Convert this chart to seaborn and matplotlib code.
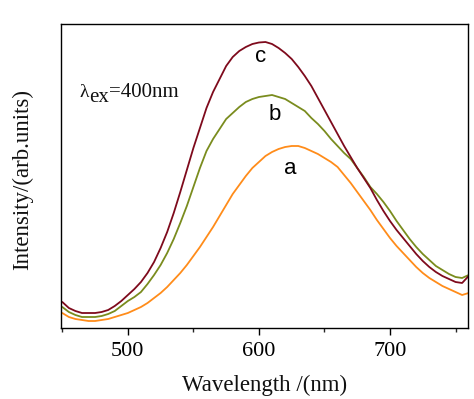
import numpy as np
import pandas as pd
import matplotlib
matplotlib.use("Agg")
import matplotlib.pyplot as plt
import seaborn as sns
from matplotlib.ticker import MultipleLocator

sns.set_theme(style="white")
plt.rcParams['font.family'] = ['Liberation Serif', 'DejaVu Serif']

wavelength = [450, 455, 460, 465, 470, 475, 480, 485, 490, 495,
              500, 505, 510, 515, 520, 525, 530, 535, 540, 545,
              550, 555, 560, 565, 570, 575, 580, 585, 590, 595,
              600, 605, 610, 615, 620, 625, 630, 635, 640, 645,
              650, 655, 660, 665, 670, 675, 680, 685, 690, 695,
              700, 705, 710, 715, 720, 725, 730, 735, 740, 745,
              750, 755, 760]
curve_c = [26, 20, 17, 15, 15, 15, 16, 18, 22, 27,
           33, 39, 46, 55, 66, 80, 96, 115, 136, 158,
           180, 200, 220, 236, 249, 262, 271, 277, 281, 284,
           285.5, 286, 284, 280, 275, 269, 261, 252, 242, 230,
           218, 206, 194, 182, 171, 160, 150, 140, 128, 117,
           107, 98, 90, 82, 74, 67, 61, 56, 52, 49,
           46, 45, 52]
curve_b = [21, 16, 13, 11, 11, 11, 12, 14, 17, 22,
           27, 31, 36, 44, 53, 63, 75, 89, 105, 122,
           141, 160, 177, 189, 199, 209, 215, 221, 226, 229,
           231, 232, 233, 231, 229, 225, 221, 217, 210, 204,
           197, 189, 182, 175, 169, 160, 151, 141, 134, 126,
           117, 107, 98, 89, 81, 74, 68, 62, 58, 54,
           51, 50, 53]
curve_a = [15, 11, 9, 8, 7, 7, 8, 9, 11, 13,
           15, 18, 21, 25, 30, 35, 41, 48, 55, 63,
           72, 81, 91, 101, 112, 123, 134, 143, 152, 160,
           166, 172, 176, 179, 181, 182, 182, 180, 177, 174,
           170, 166, 161, 153, 145, 136, 127, 118, 108, 99,
           90, 82, 75, 68, 61, 55, 50, 46, 42, 39,
           36, 33, 35]

labels = ["a", "b", "c"]
colors = {"a": "#FF8C1A", "b": "#7A8C1E", "c": "#7E0A1C"}

df = pd.concat([
    pd.DataFrame({"Wavelength": wavelength, "Intensity": curve_a, "sample": "a"}),
    pd.DataFrame({"Wavelength": wavelength, "Intensity": curve_b, "sample": "b"}),
    pd.DataFrame({"Wavelength": wavelength, "Intensity": curve_c, "sample": "c"}),
])

fig = plt.figure(figsize=(4.74, 3.99), dpi=100)
ax = fig.add_axes([61/474, 71/399, 407/474, 304/399])

sns.lineplot(data=df, x="Wavelength", y="Intensity", hue="sample",
             palette=colors, linewidth=1.3, legend=False, ax=ax, sort=True)

ax.set_xlim(449, 759.5)
ax.set_ylim(0, 304)
ax.set_yticks([])
ax.xaxis.set_major_locator(MultipleLocator(100))
ax.xaxis.set_minor_locator(MultipleLocator(50))
ax.tick_params(axis='x', which='major', direction='out', length=5, width=1,
               labelsize=16, bottom=True, pad=5, colors='black')
ax.tick_params(axis='x', which='minor', direction='out', length=3, width=1, bottom=True)
for s in ax.spines.values():
    s.set_color('black')
    s.set_linewidth(1.0)

ax.set_xlabel("Wavelength /(nm)", fontsize=16.5, color='#111111')
ax.set_ylabel("Intensity/(arb.units)", fontsize=16.5, color='#111111')
ax.xaxis.set_label_coords(0.5, -0.155)
ax.yaxis.set_label_coords(-0.069, 0.488)

# lambda_ex = 400nm annotation (pixel positions)
ax.text(80, 302, "λ", transform=None, fontsize=14, color='#111111', va='baseline')
ax.text(89, 297, "ex", transform=None, fontsize=15, color='#111111', va='baseline')
ax.text(109, 302, "=400nm", transform=None, fontsize=15, color='#111111', va='baseline')

label_pos = {"c": (601, 271), "b": (612, 213), "a": (624, 160)}
for k in labels:
    x, y = label_pos[k]
    ax.text(x, y, k, fontsize=16, family=['Liberation Sans', 'DejaVu Sans'],
            ha='center', va='center', color='black')

fig.savefig("out.png", dpi=100)
